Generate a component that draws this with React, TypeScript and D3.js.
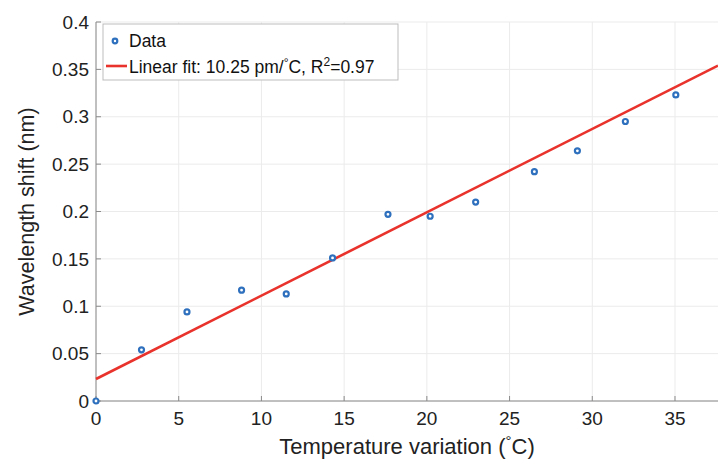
import * as d3 from 'd3'

const W = 718
const H = 461
const M = { top: 22, right: 0, bottom: 60, left: 96 }

// measured data: temperature variation (°C) vs wavelength shift (nm)
const tempC = [0, 2.75, 5.5, 8.8, 11.5, 14.3, 17.65, 20.2, 22.95, 26.5, 29.1, 32.0, 35.05]
const shiftNm = [0, 0.054, 0.094, 0.117, 0.113, 0.151, 0.197, 0.195, 0.210, 0.242, 0.264, 0.295, 0.323]

// fitted line end points as drawn
const fitX = [0, 37.6]
const fitY = [0.0232, 0.354]

const xTicks = [0, 5, 10, 15, 20, 25, 30, 35]
const yTicks = [0, 0.05, 0.1, 0.15, 0.2, 0.25, 0.3, 0.35, 0.4]

const BLUE = '#2e70bd'
const RED = '#e8322b'
const FONT = '"Liberation Sans", Arial, Helvetica, sans-serif'

export default function App() {
  const innerW = W - M.left - M.right
  const innerH = H - M.top - M.bottom

  const x = d3.scaleLinear().domain([0, 37.6]).range([0, innerW])
  const y = d3.scaleLinear().domain([0, 0.4]).range([innerH, 0])

  const fitLine = d3.line<number>()
    .x((_, i) => x(fitX[i]))
    .y(d => y(d))

  return (
    <svg width={W} height={H} style={{ position: 'absolute', left: 0, top: 0, background: '#fff' }}
      fontFamily={FONT}>
      <g transform={`translate(${M.left},${M.top})`}>
        {/* grid */}
        {xTicks.map(t => (
          <line key={'gx' + t} x1={x(t)} x2={x(t)} y1={0} y2={innerH} stroke="#ebebeb" strokeWidth={1} />
        ))}
        {yTicks.map(t => (
          <line key={'gy' + t} x1={0} x2={innerW} y1={y(t)} y2={y(t)} stroke="#ebebeb" strokeWidth={1} />
        ))}

        {/* axes */}
        <line x1={0} x2={0} y1={0} y2={innerH} stroke="#8a8a8a" strokeWidth={1} />
        <line x1={0} x2={innerW} y1={innerH} y2={innerH} stroke="#8a8a8a" strokeWidth={1} />
        {xTicks.map(t => (
          <g key={'tx' + t}>
            <line x1={x(t)} x2={x(t)} y1={innerH} y2={innerH - 5} stroke="#8a8a8a" />
            <text x={x(t)} y={innerH + 24} textAnchor="middle" fontSize={19} fill="#222">{t}</text>
          </g>
        ))}
        {yTicks.map(t => (
          <g key={'ty' + t}>
            <line x1={0} x2={5} y1={y(t)} y2={y(t)} stroke="#8a8a8a" />
            <text x={-7} y={y(t)} dy="0.35em" textAnchor="end" fontSize={19} fill="#222">{t}</text>
          </g>
        ))}

        {/* fit line */}
        <path d={fitLine(fitY) ?? ''} fill="none" stroke={RED} strokeWidth={2.6} />

        {/* data points */}
        {tempC.map((t, i) => (
          <circle key={i} cx={x(t)} cy={y(shiftNm[i])} r={2.5} fill="#fff" stroke={BLUE} strokeWidth={2.2} />
        ))}

        {/* legend */}
        <g transform="translate(7,2)">
          <rect x={0} y={0} width={295} height={56} fill="#fff" stroke="#bdbdbd" strokeWidth={1} />
          <circle cx={12} cy={17} r={2.3} fill="#fff" stroke={BLUE} strokeWidth={2.2} />
          <text x={26} y={23} fontSize={17.5} fill="#111">Data</text>
          <line x1={3} x2={24} y1={42} y2={42} stroke={RED} strokeWidth={2.6} />
          <text x={26} y={49} fontSize={17.5} fill="#111">
            Linear fit: 10.25 pm/
            <tspan dy={-6} fontSize={12}>°</tspan>
            <tspan dy={6}>C, R</tspan>
            <tspan dy={-7} fontSize={12}>2</tspan>
            <tspan dy={7}>=0.97</tspan>
          </text>
        </g>
      </g>

      {/* axis titles */}
      <text x={M.left + 311} y={H - 7} textAnchor="middle" fontSize={22} fill="#222">
        Temperature variation (
        <tspan dy={-8} fontSize={15}>°</tspan>
        <tspan dy={8}>C)</tspan>
      </text>
      <text transform={`translate(34,${M.top + innerH / 2}) rotate(-90)`} textAnchor="middle" fontSize={21.5} fill="#222">
        Wavelength shift (nm)
      </text>
    </svg>
  )
}
